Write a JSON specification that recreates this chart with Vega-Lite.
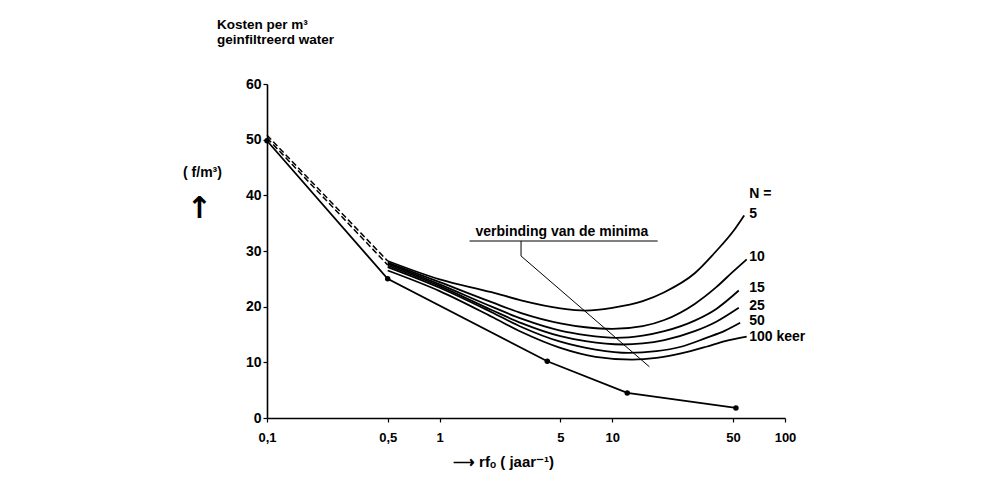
{
  "$schema": "https://vega.github.io/schema/vega-lite/v6.json",
  "width": 518,
  "height": 334,
  "autosize": "none",
  "padding": {"left": 267, "top": 84, "right": 197, "bottom": 66},
  "background": "white",
  "config": {
    "view": {"stroke": null},
    "font": "Liberation Sans",
    "axis": {
      "domainColor": "black", "domainWidth": 1.6, "tickColor": "black", "tickWidth": 1.2,
      "labelColor": "black", "labelFont": "Liberation Sans", "labelFontWeight": "bold", "labelFontSize": 13,
      "titleColor": "black", "titleFont": "Liberation Sans", "titleFontWeight": "bold", "titleFontSize": 13,
      "grid": false
    }
  },
  "title": {
    "text": ["Kosten per m³", "geinfiltreerd water"],
    "anchor": "start", "frame": "group", "dx": -50, "offset": 31,
    "fontSize": 13.5, "fontWeight": "bold", "font": "Liberation Sans", "color": "black", "lineHeight": 15
  },
  "datasets": {
    "curves": [
      {"N": "5", "x": 0.5, "y": 28.2}, {"N": "5", "x": 1, "y": 24.9}, {"N": "5", "x": 2, "y": 22.6}, {"N": "5", "x": 3, "y": 21.1}, {"N": "5", "x": 5, "y": 19.7}, {"N": "5", "x": 7, "y": 19.3}, {"N": "5", "x": 10, "y": 19.8}, {"N": "5", "x": 15, "y": 21.0}, {"N": "5", "x": 20, "y": 22.6}, {"N": "5", "x": 30, "y": 26.0}, {"N": "5", "x": 40, "y": 30.0}, {"N": "5", "x": 50, "y": 33.5}, {"N": "5", "x": 58, "y": 36.4},
      {"N": "10", "x": 0.5, "y": 27.9}, {"N": "10", "x": 1, "y": 24.4}, {"N": "10", "x": 2, "y": 20.8}, {"N": "10", "x": 3, "y": 18.8}, {"N": "10", "x": 5, "y": 17.0}, {"N": "10", "x": 7, "y": 16.3}, {"N": "10", "x": 10, "y": 16.0}, {"N": "10", "x": 15, "y": 16.5}, {"N": "10", "x": 20, "y": 17.6}, {"N": "10", "x": 30, "y": 20.5}, {"N": "10", "x": 40, "y": 23.5}, {"N": "10", "x": 50, "y": 26.3}, {"N": "10", "x": 60, "y": 28.5},
      {"N": "15", "x": 0.5, "y": 27.7}, {"N": "15", "x": 1, "y": 24.0}, {"N": "15", "x": 2, "y": 20.0}, {"N": "15", "x": 3, "y": 17.8}, {"N": "15", "x": 5, "y": 15.7}, {"N": "15", "x": 7, "y": 14.9}, {"N": "15", "x": 10.5, "y": 14.4}, {"N": "15", "x": 15, "y": 14.8}, {"N": "15", "x": 20, "y": 15.6}, {"N": "15", "x": 30, "y": 17.5}, {"N": "15", "x": 40, "y": 19.6}, {"N": "15", "x": 54, "y": 22.9},
      {"N": "25", "x": 0.5, "y": 27.4}, {"N": "25", "x": 1, "y": 23.7}, {"N": "25", "x": 2, "y": 19.4}, {"N": "25", "x": 3, "y": 17.0}, {"N": "25", "x": 5, "y": 14.7}, {"N": "25", "x": 7, "y": 13.8}, {"N": "25", "x": 11.5, "y": 13.2}, {"N": "25", "x": 15, "y": 13.4}, {"N": "25", "x": 20, "y": 14.0}, {"N": "25", "x": 30, "y": 15.6}, {"N": "25", "x": 40, "y": 17.3}, {"N": "25", "x": 54, "y": 19.8},
      {"N": "50", "x": 0.5, "y": 27.1}, {"N": "50", "x": 1, "y": 23.4}, {"N": "50", "x": 2, "y": 19.0}, {"N": "50", "x": 3, "y": 16.3}, {"N": "50", "x": 5, "y": 13.7}, {"N": "50", "x": 8, "y": 12.3}, {"N": "50", "x": 12.4, "y": 11.7}, {"N": "50", "x": 18, "y": 12.0}, {"N": "50", "x": 25, "y": 12.8}, {"N": "50", "x": 35, "y": 14.4}, {"N": "50", "x": 45, "y": 15.7}, {"N": "50", "x": 55, "y": 17.1},
      {"N": "100", "x": 0.5, "y": 26.5}, {"N": "100", "x": 1, "y": 22.8}, {"N": "100", "x": 2, "y": 18.2}, {"N": "100", "x": 3, "y": 15.4}, {"N": "100", "x": 5, "y": 12.6}, {"N": "100", "x": 8, "y": 11.0}, {"N": "100", "x": 13, "y": 10.5}, {"N": "100", "x": 18, "y": 10.8}, {"N": "100", "x": 25, "y": 11.6}, {"N": "100", "x": 35, "y": 12.8}, {"N": "100", "x": 45, "y": 13.8}, {"N": "100", "x": 60, "y": 14.6}
    ],
    "extrapolated": [
      {"line": "a", "x": 0.1, "y": 50.8}, {"line": "a", "x": 0.5, "y": 28.2},
      {"line": "b", "x": 0.1, "y": 50.3}, {"line": "b", "x": 0.5, "y": 27.5}
    ],
    "base": [
      {"x": 0.1, "y": 49.8}, {"x": 0.5, "y": 25.0}, {"x": 4.2, "y": 10.2}, {"x": 12.2, "y": 4.5}, {"x": 52, "y": 1.8}
    ],
    "labels": [
      {"x": 62, "y": 40.3, "text": "N ="},
      {"x": 62, "y": 36.7, "text": "5"},
      {"x": 62, "y": 28.9, "text": "10"},
      {"x": 62, "y": 23.3, "text": "15"},
      {"x": 62, "y": 20.2, "text": "25"},
      {"x": 62, "y": 17.5, "text": "50"},
      {"x": 62, "y": 14.6, "text": "100 keer"}
    ],
    "minimaNote": [
      {"x": 5.1, "y": 33.4, "text": "verbinding van de minima"}
    ],
    "underline": [
      {"x": 1.49, "x2": 18.3, "y": 31.8}
    ],
    "leader": [
      {"o": 1, "x": 2.96, "y": 31.8}, {"o": 2, "x": 2.96, "y": 29.1}, {"o": 3, "x": 16.4, "y": 9.2}
    ],
    "unitArrow": [
      {"x": 0.0405, "y": 37.6, "text": "↑"}
    ]
  },
  "layer": [
    {
      "data": {"name": "curves"},
      "mark": {"type": "line", "interpolate": "monotone", "color": "black", "strokeWidth": 1.8},
      "encoding": {
        "x": {"field": "x", "type": "quantitative",
              "scale": {"type": "log", "domain": [0.1, 100], "nice": false},
              "axis": {"values": [0.1, 0.5, 1, 5, 10, 50, 100], "labelExpr": "replace(toString(datum.value), '.', ',')",
                       "labelFlush": false, "tickSize": 4, "labelPadding": 9,
                       "title": "⟶ rfₒ ( jaar⁻¹)", "titleX": 236, "titleY": 48, "titleAnchor": "middle", "titleBaseline": "alphabetic", "titleFontSize": 15}},
        "y": {"field": "y", "type": "quantitative",
              "scale": {"domain": [0, 60], "nice": false},
              "axis": {"values": [0, 10, 20, 30, 40, 50, 60], "tickSize": 4, "labelPadding": 2, "labelFontSize": 14,
                       "title": "( f/m³)", "titleAngle": 0, "titleX": -65, "titleY": 88, "titleAlign": "center", "titleBaseline": "middle", "titleFontSize": 14}},
        "detail": {"field": "N"}
      }
    },
    {
      "data": {"name": "extrapolated"},
      "mark": {"type": "line", "color": "black", "strokeWidth": 1.5, "strokeDash": [6, 3]},
      "encoding": {
        "x": {"field": "x", "type": "quantitative"},
        "y": {"field": "y", "type": "quantitative"},
        "detail": {"field": "line"}
      }
    },
    {
      "data": {"name": "base"},
      "mark": {"type": "line", "color": "black", "strokeWidth": 1.8, "point": {"filled": true, "color": "black", "size": 30}},
      "encoding": {
        "x": {"field": "x", "type": "quantitative"},
        "y": {"field": "y", "type": "quantitative"}
      }
    },
    {
      "data": {"name": "leader"},
      "mark": {"type": "line", "color": "black", "strokeWidth": 1},
      "encoding": {
        "x": {"field": "x", "type": "quantitative"},
        "y": {"field": "y", "type": "quantitative"},
        "order": {"field": "o"}
      }
    },
    {
      "data": {"name": "underline"},
      "mark": {"type": "rule", "color": "black", "strokeWidth": 1.2},
      "encoding": {
        "x": {"field": "x", "type": "quantitative"},
        "x2": {"field": "x2"},
        "y": {"field": "y", "type": "quantitative"}
      }
    },
    {
      "data": {"name": "minimaNote"},
      "mark": {"type": "text", "font": "Liberation Sans", "fontWeight": "bold", "fontSize": 14, "color": "black", "align": "center", "baseline": "middle"},
      "encoding": {
        "x": {"field": "x", "type": "quantitative"},
        "y": {"field": "y", "type": "quantitative"},
        "text": {"field": "text"}
      }
    },
    {
      "data": {"name": "labels"},
      "mark": {"type": "text", "font": "Liberation Sans", "fontWeight": "bold", "fontSize": 14, "color": "black", "align": "left", "baseline": "middle"},
      "encoding": {
        "x": {"field": "x", "type": "quantitative"},
        "y": {"field": "y", "type": "quantitative"},
        "text": {"field": "text"}
      }
    },
    {
      "data": {"name": "unitArrow"},
      "mark": {"type": "text", "font": "DejaVu Sans", "fontWeight": "bold", "fontSize": 30, "color": "black", "align": "center", "baseline": "middle", "clip": false},
      "encoding": {
        "x": {"field": "x", "type": "quantitative"},
        "y": {"field": "y", "type": "quantitative"},
        "text": {"field": "text"}
      }
    }
  ]
}
